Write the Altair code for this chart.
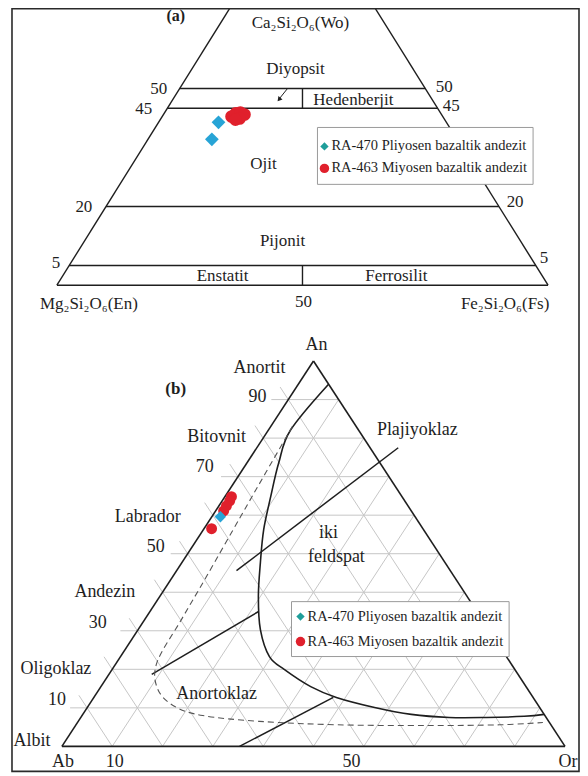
import altair as alt
import pandas as pd
import math

# ---------------- data ----------------
# Panel (a): pyroxene compositions (mol %), Wo and Fs (En = 100 - Wo - Fs)
a470_wo = [41.4, 37.1]
a470_fs = [12.2, 13.0]
a463_wo = [42.9, 43.7, 43.9, 43.4, 42.4, 42.1]
a463_fs = [14.1, 14.6, 15.4, 16.5, 16.0, 15.3]

# Panel (b): feldspar compositions (mol %), An and Or (Ab = 100 - An - Or)
b470_an = [59.6]
b470_or = [1.7]
b463_an = [64.8, 63.7, 62.4, 61.1, 56.5]
b463_or = [1.3, 1.5, 1.5, 1.6, 1.5]

# Pyroxene classification boundaries (Wo %)
wo_bounds = [0, 5, 20, 45, 50]

# Feldspar: solid two-feldspar boundary (An, Or)
solvus_an = [94.0, 82.1, 73.6, 64.8, 56.2, 47.7, 38.9, 30.3, 23.3, 19.9, 15.5, 12.7, 10.1, 8.3, 7.5, 7.5, 7.8, 8.3]
solvus_or = [6.0, 4.4, 6.3, 9.1, 12.0, 15.6, 19.6, 24.3, 29.6, 34.3, 41.7, 48.2, 57.1, 65.3, 73.2, 80.6, 88.0, 91.7]
# Feldspar: dashed boundary (An, Or)
dash_an = [83.0, 71.0, 59.6, 44.0, 32.9, 21.8, 15.0, 10.5, 8.0, 6.5, 5.6, 5.4, 5.6, 6.2]
dash_or = [4.3, 5.0, 5.7, 6.7, 7.3, 8.0, 11.5, 17.0, 24.0, 36.0, 52.0, 70.0, 84.2, 92.5]
# Feldspar: straight field boundaries (An pair, Or pair)
plag_an, plag_or = [77.5, 45.6], [28.1, 11.9]
divA_an, divA_or = [35.0, 18.7], [21.6, 8.5]
divB_an, divB_or = [12.7, 0.0], [47.6, 35.3]
grid_steps = [10, 20, 30, 40, 50, 60, 70, 80, 90]
an_tick_labels = [10, 30, 50, 70, 90]

# ---------------- layout (page pixel space) ----------------
X0, X1, Y0, Y1 = 8, 581, 8, 773
A_X, A_Y, A_W, A_H = 57, 285, 492, 394
B_X, B_Y, B_W, B_H = 62, 747, 504, 386


def ta(wo, fs):
    return A_X + A_W * (fs + wo / 2) / 100, A_Y - A_H * wo / 100


def tb(an, orr):
    return B_X + B_W * (orr + an / 2) / 100, B_Y - B_H * an / 100


XS = alt.Scale(domain=[X0, X1], nice=False, zero=False)
YS = alt.Scale(domain=[Y0, Y1], nice=False, zero=False, reverse=True)
FONT = "Liberation Serif"
INK = "#1e1e1e"


def enc_xy(ch):
    return ch.encode(x=alt.X("x:Q", scale=XS, axis=None), y=alt.Y("y:Q", scale=YS, axis=None))


def rules(segs, color, width, dash=None):
    df = pd.DataFrame([(a[0], a[1], b[0], b[1]) for a, b in segs], columns=["x", "y", "x2", "y2"])
    kw = dict(color=color, strokeWidth=width)
    if dash:
        kw["strokeDash"] = dash
    return alt.Chart(df).mark_rule(**kw).encode(
        x=alt.X("x:Q", scale=XS, axis=None), y=alt.Y("y:Q", scale=YS, axis=None),
        x2="x2:Q", y2="y2:Q")


def curve(pts, color, width, dash=None):
    df = pd.DataFrame([(p[0], p[1], i) for i, p in enumerate(pts)], columns=["x", "y", "i"])
    kw = dict(color=color, strokeWidth=width, interpolate="cardinal")
    if dash:
        kw["strokeDash"] = dash
    return alt.Chart(df).mark_line(**kw).encode(
        x=alt.X("x:Q", scale=XS, axis=None), y=alt.Y("y:Q", scale=YS, axis=None),
        order="i:Q")


def pts_layer(pts, shape, size, color, angle=0):
    df = pd.DataFrame(pts, columns=["x", "y"])
    return enc_xy(alt.Chart(df).mark_point(shape=shape, size=size, filled=True,
                                           color=color, opacity=1, strokeWidth=0, angle=angle))


def texts(rows, align="center", weight="normal"):
    df = pd.DataFrame(rows, columns=["x", "y", "t", "s"])
    return alt.Chart(df).mark_text(font=FONT, color=INK, align=align, baseline="middle",
                                   fontWeight=weight).encode(
        x=alt.X("x:Q", scale=XS, axis=None), y=alt.Y("y:Q", scale=YS, axis=None),
        text="t:N", size=alt.Size("s:Q", scale=None))


def rects(rows, fill, stroke, width):
    df = pd.DataFrame(rows, columns=["x", "y", "x2", "y2"])
    kw = dict(stroke=stroke, strokeWidth=width)
    if fill is None:
        kw["fillOpacity"] = 0
        kw["fill"] = "white"
    else:
        kw["fill"] = fill
    return alt.Chart(df).mark_rect(**kw).encode(
        x=alt.X("x:Q", scale=XS, axis=None), y=alt.Y("y:Q", scale=YS, axis=None),
        x2="x2:Q", y2="y2:Q")


# ---------------- panel (a) geometry ----------------
wo_top = (A_Y - Y0) / A_H * 100
a_segs = [(ta(0, 0), ta(wo_top, 0)), (ta(0, 100), ta(wo_top, 100 - wo_top))]
for w in wo_bounds:
    a_segs.append((ta(w, 0), ta(w, 100 - w)))
a_segs.append((ta(45, 27.5), ta(50, 25)))
a_segs.append((ta(0, 50), ta(5, 47.5)))
arrow_seg = [((288, 88), (280, 98))]

# ---------------- panel (b) geometry ----------------
b_edges = [(tb(0, 0), tb(100, 0)), (tb(100, 0), tb(0, 100)), (tb(0, 0), tb(0, 100))]
grid = []
ab_dx, ab_dy = -B_W / 200, -B_H / 100
nrm = math.hypot(ab_dx, ab_dy)
for k in grid_steps:
    p1, p2 = tb(k, 0), tb(k, 100 - k)
    if k in an_tick_labels:
        p1 = (p1[0] - 17, p1[1])
    grid.append((p1, p2))
    q1, q2 = tb(0, 100 - k), tb(100 - k, 0)
    q2 = (q2[0] + ab_dx / nrm * 15, q2[1] + ab_dy / nrm * 15)
    grid.append((q1, q2))
    grid.append((tb(0, k), tb(100 - k, k)))
b_lines = [(tb(plag_an[0], plag_or[0]), tb(plag_an[1], plag_or[1])),
           (tb(divA_an[0], divA_or[0]), tb(divA_an[1], divA_or[1])),
           (tb(divB_an[0], divB_or[0]), tb(divB_an[1], divB_or[1]))]
solvus = [tb(a, o) for a, o in zip(solvus_an, solvus_or)]
dashed = [tb(a, o) for a, o in zip(dash_an, dash_or)]

# ---------------- labels ----------------
SA, SB, ST = 17, 18, 17
la = [
    (301, 22, "Ca\u2082Si\u2082O\u2086(Wo)", SA),
    (296, 68, "Diyopsit", SA),
    (159, 88, "50", ST), (144, 109, "45", ST),
    (445, 86, "50", ST), (452, 106, "45", ST),
    (354, 99, "Hedenberjit", SA),
    (264, 164, "Ojit", SA),
    (84, 207, "20", ST), (516, 202, "20", ST),
    (283, 241, "Pijonit", SA),
    (56, 263, "5", ST), (545, 258, "5", ST),
    (223, 276, "Enstatit", SA), (397, 276, "Ferrosilit", SA),
    (89, 304, "Mg\u2082Si\u2082O\u2086(En)", SA), (304, 302, "50", ST),
    (506, 304, "Fe\u2082Si\u2082O\u2086(Fs)", SA),
    (317, 345, "An", SB), (260, 368, "Anortit", SB),
    (258, 397, "90", SB), (217, 437, "Bitovnit", SB),
    (418, 430, "Plajiyoklaz", SB), (205, 467, "70", SB),
    (148, 517, "Labrador", SB), (156, 547, "50", SB),
    (329, 533, "iki", SB), (337, 557, "feldspat", SB),
    (105, 592, "Andezin", SB), (98, 623, "30", SB),
    (56, 669, "Oligoklaz", SB), (217, 695, "Anortoklaz", SB),
    (57, 701, "10", SB), (32, 742, "Albit", SB),
    (63, 763, "Ab", SB), (115, 763, "10", SB), (352, 763, "50", SB),
    (569, 763, "Or", SB),
]
bold = [(176, 15, "(a)", 16), (176, 389, "(b)", 17)]
leg_names = ["RA-470 Pliyosen bazaltik andezit", "RA-463 Miyosen bazaltik andezit"]
SL = 14.5
leg_txt = [(332, 146, leg_names[0], SL), (332, 168, leg_names[1], SL),
           (308, 617, leg_names[0], SL), (308, 642, leg_names[1], SL)]

BLUE = "#27a4d6"
TEAL = "#1f9e9a"
RED = "#e0202c"

layers = [
    rules(grid, "#c6c6c6", 1),
    rules(b_edges, INK, 1.6),
    rules(b_lines, INK, 1.5),
    curve(solvus, INK, 1.6),
    curve(dashed, "#555555", 1.1, [6, 4]),
    rules(a_segs, INK, 1.4),
    rules(arrow_seg, INK, 1),
    pts_layer([(279.5, 99)], "triangle-down", 28, INK, angle=39),
    rects([(318, 127, 534, 184), (292, 602, 510, 657)], "white", "#9a9a9a", 1),
    pts_layer([ta(w, f) for w, f in zip(a470_wo, a470_fs)], "diamond", 190, BLUE),
    pts_layer([ta(w, f) for w, f in zip(a463_wo, a463_fs)], "circle", 160, RED),
    pts_layer([tb(a, o) for a, o in zip(b463_an, b463_or)], "circle", 120, RED),
    pts_layer([tb(a, o) for a, o in zip(b470_an, b470_or)], "diamond", 130, BLUE),
    pts_layer([(325, 146), (301, 617)], "diamond", 70, TEAL),
    pts_layer([(325, 168), (301, 642)], "circle", 90, RED),
    texts(la),
    texts(bold, weight="bold"),
    texts(leg_txt, align="left"),
    rects([(12, 8, 580, 772)], None, "#2a2a2a", 1.6),
]

chart = alt.layer(*layers).properties(
    width=X1 - X0, height=Y1 - Y0,
    autosize=alt.AutoSizeParams(type="none"), padding=0,
    background="white",
).configure_view(stroke=None)

chart.save("out.html", embed_options={"renderer": "svg", "actions": False})
